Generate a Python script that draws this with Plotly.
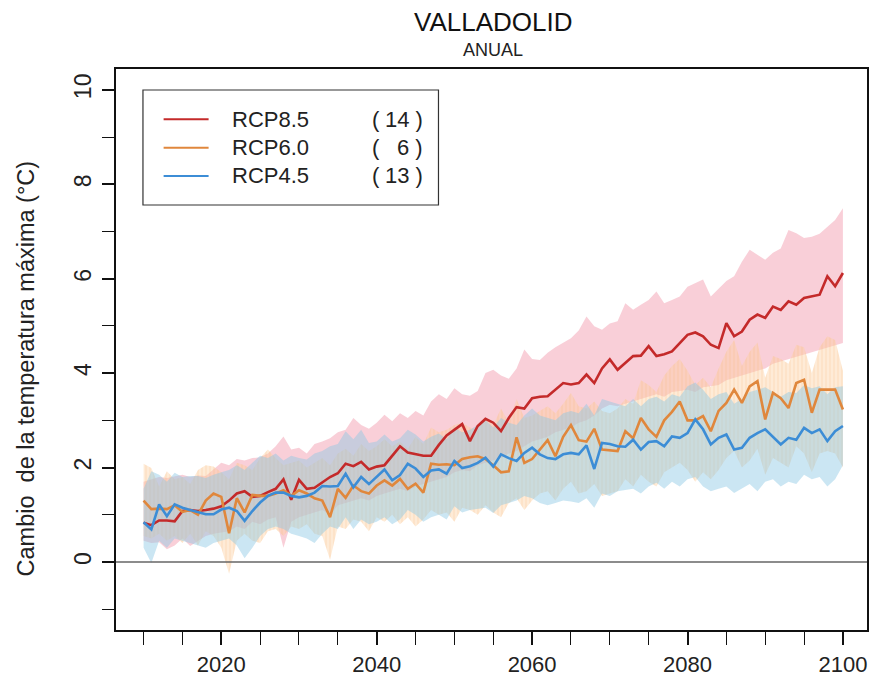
import plotly.graph_objects as go

years = list(range(2010, 2101))

# RCP8.5
r_med = [0.83, 0.78, 0.88, 0.88, 0.86, 1.08, 1.10, 1.08, 1.10, 1.13,
         1.18, 1.30, 1.45, 1.50, 1.38, 1.40, 1.48, 1.55, 1.75, 1.32,
         1.74, 1.55, 1.57, 1.68, 1.80, 1.88, 2.08, 2.03, 2.12, 1.96,
         2.02, 2.05, 2.25, 2.45, 2.32, 2.28, 2.25, 2.25, 2.48, 2.68,
         2.80, 2.92, 2.56, 2.88, 3.03, 2.95, 2.77, 3.05, 3.28, 3.25,
         3.47, 3.50, 3.51, 3.65, 3.79, 3.76, 3.79, 3.97, 3.79, 4.10,
         4.29, 4.07, 4.22, 4.36, 4.37, 4.57, 4.36, 4.40, 4.46, 4.64,
         4.81, 4.86, 4.78, 4.60, 4.53, 5.06, 4.78, 4.88, 5.13, 5.24,
         5.17, 5.41, 5.34, 5.52, 5.45, 5.59, 5.62, 5.66, 6.05, 5.84,
         6.12]
r_hi = [1.70, 1.75, 1.80, 1.78, 1.82, 1.85, 1.80, 1.83, 1.82, 1.95,
        2.10, 2.05, 2.18, 2.15, 2.20, 2.22, 2.30, 2.45, 2.66, 2.38,
        2.42, 2.30, 2.50, 2.55, 2.62, 2.75, 2.80, 3.05, 2.90, 2.82,
        2.95, 3.12, 2.98, 3.15, 3.05, 3.20, 3.10, 3.40, 3.55, 3.45,
        3.68, 3.55, 3.52, 3.62, 4.00, 4.07, 3.95, 3.88, 4.10, 4.50,
        4.30, 4.28, 4.43, 4.55, 4.64, 4.74, 4.90, 5.20, 4.99, 4.92,
        5.05, 5.10, 5.48, 5.34, 5.45, 5.55, 5.73, 5.48, 5.55, 5.62,
        5.83, 5.90, 5.98, 5.62, 5.78, 5.95, 6.05, 6.36, 6.61, 6.50,
        6.40, 6.55, 6.64, 7.03, 6.96, 6.86, 6.89, 6.95, 7.10, 7.24,
        7.49]
r_lo = [0.45, 0.40, 0.42, 0.27, 0.35, 0.50, 0.34, 0.45, 0.55, 0.60,
        0.62, 0.65, 0.75, 0.70, 0.85, 0.80, 0.90, 0.95, 0.30, 0.85,
        0.95, 1.00, 1.05, 1.10, 1.00, 1.20, 1.25, 1.30, 1.35, 1.30,
        1.40, 1.45, 1.50, 1.55, 1.50, 1.60, 1.65, 1.70, 1.75, 1.80,
        1.90, 1.95, 1.92, 2.05, 2.10, 2.15, 2.20, 2.30, 2.35, 2.45,
        2.55, 2.60, 2.65, 2.75, 2.80, 2.85, 2.95, 3.00, 3.10, 3.25,
        3.33, 3.30, 3.35, 3.40, 3.45, 3.50, 3.55, 3.50, 3.60, 3.62,
        3.65, 3.60, 3.70, 3.72, 3.75, 3.85, 3.90, 3.95, 4.00, 4.05,
        4.10, 4.20, 4.25, 4.30, 4.35, 4.40, 4.45, 4.50, 4.55, 4.60,
        4.64]

# RCP6.0
o_med = [1.30, 1.12, 1.13, 1.12, 1.20, 1.06, 1.10, 1.00, 1.30, 1.45,
         1.38, 0.61, 1.35, 1.05, 1.42, 1.40, 1.40, 1.45, 1.52, 1.40,
         1.52, 1.45, 1.35, 1.30, 0.95, 1.55, 1.36, 1.62, 1.50, 1.45,
         1.62, 1.73, 1.62, 1.76, 1.55, 1.66, 1.47, 2.08, 2.06, 2.07,
         2.05, 2.18, 2.22, 2.24, 2.18, 2.05, 1.90, 1.92, 2.64, 2.10,
         2.18, 2.38, 2.58, 2.24, 2.65, 2.90, 2.58, 2.55, 2.82, 2.38,
         2.36, 2.35, 2.77, 2.62, 3.05, 2.81, 2.65, 3.00, 3.18, 3.40,
         3.00, 3.00, 3.09, 2.77, 3.20, 3.37, 3.65, 3.37, 3.72, 3.83,
         3.02, 3.58, 3.47, 3.26, 3.79, 3.86, 3.16, 3.65, 3.65, 3.65,
         3.23]
o_hi = [2.08, 1.99, 1.60, 1.92, 1.75, 1.80, 1.65, 1.95, 2.05, 2.02,
        1.90, 1.75, 2.10, 2.05, 1.95, 2.20, 2.38, 2.20, 2.05, 2.10,
        2.15, 2.00, 2.10, 2.20, 2.05, 2.30, 2.40, 2.25, 2.50, 2.35,
        2.45, 2.60, 2.45, 2.55, 2.40, 2.65, 2.50, 2.85, 2.75, 2.80,
        2.90, 2.95, 2.85, 2.80, 3.05, 2.90, 3.25, 2.95, 3.45, 3.05,
        3.10, 3.20, 3.30, 3.15, 3.35, 3.58, 3.30, 3.25, 3.40, 3.20,
        3.15, 3.25, 3.45, 3.35, 3.85, 3.75, 3.60, 3.95, 4.15, 4.30,
        4.05, 3.75, 3.90, 3.70, 4.10, 4.45, 4.70, 4.15, 4.45, 4.65,
        3.90, 4.36, 4.30, 4.20, 4.60, 4.55, 4.00, 4.55, 4.78, 4.70,
        4.05]
o_lo = [0.55, 0.50, 0.60, 0.45, 0.55, 0.40, 0.60, 0.35, 0.65, 0.55,
        0.30, -0.25, 0.45, 0.60, 0.45, 0.40, 0.65, 0.70, 0.55, 0.75,
        0.70, 0.80, 0.60, 0.55, 0.05, 0.75, 0.70, 0.90, 0.85, 0.65,
        0.95, 0.85, 1.00, 0.80, 0.95, 0.75, 0.90, 1.10, 1.00, 1.05,
        0.85, 1.15, 1.10, 1.00, 1.20, 1.05, 0.95, 1.25, 1.35, 1.10,
        1.30, 1.45, 1.50, 1.30, 1.55, 1.70, 1.45, 1.50, 1.65, 1.40,
        1.45, 1.50, 1.75, 1.60, 1.85, 1.70, 1.60, 1.90, 2.00, 2.10,
        1.95, 1.70, 1.90, 1.75, 1.95, 2.20, 2.35, 2.00, 2.15, 2.40,
        1.85, 2.20, 2.10, 2.00, 2.45, 2.30, 1.90, 2.30, 2.35, 2.30,
        2.00]

# RCP4.5
b_med = [0.84, 0.69, 1.22, 0.97, 1.22, 1.15, 1.10, 1.05, 1.01, 1.01,
         1.11, 1.15, 1.08, 0.87, 1.08, 1.26, 1.40, 1.47, 1.47, 1.40,
         1.37, 1.40, 1.47, 1.61, 1.60, 1.61, 1.87, 1.58, 1.80, 1.65,
         1.80, 1.96, 1.73, 1.84, 2.08, 1.98, 1.80, 1.94, 1.96, 1.87,
         2.14, 1.99, 2.03, 2.10, 2.21, 2.02, 2.28, 2.20, 2.14, 2.31,
         2.42, 2.28, 2.20, 2.18, 2.28, 2.31, 2.28, 2.47, 1.97, 2.52,
         2.50, 2.45, 2.44, 2.59, 2.38, 2.54, 2.56, 2.45, 2.66, 2.63,
         2.73, 3.02, 2.81, 2.49, 2.63, 2.70, 2.38, 2.42, 2.63, 2.73,
         2.81, 2.66, 2.49, 2.63, 2.59, 2.84, 2.73, 2.81, 2.56, 2.77,
         2.88]
b_hi = [1.55, 1.92, 1.85, 1.70, 1.89, 1.80, 1.82, 1.82, 1.78, 1.85,
        1.90, 1.95, 2.05, 1.95, 2.10, 2.25, 2.20, 2.30, 2.15, 2.25,
        2.20, 2.17, 2.30, 2.35, 2.45, 2.50, 2.77, 2.60, 2.80, 2.52,
        2.55, 2.70, 2.55, 2.62, 2.80, 2.70, 2.55, 2.65, 2.72, 2.60,
        2.85, 2.75, 2.80, 2.90, 3.00, 2.85, 3.05, 2.95, 2.90, 3.10,
        3.25, 3.10, 3.05, 3.00, 3.15, 3.20, 3.15, 3.35, 3.10, 3.45,
        3.40, 3.35, 3.30, 3.45, 3.30, 3.45, 3.50, 3.40, 3.55, 3.50,
        3.72, 3.80, 3.65, 3.45, 3.55, 3.60, 3.35, 3.45, 3.60, 3.65,
        3.70, 3.60, 3.50, 3.60, 3.58, 3.75, 3.68, 3.72, 3.55, 3.70,
        3.72]
b_lo = [0.30, -0.02, 0.45, 0.30, 0.50, 0.45, 0.40, 0.35, 0.30, 0.40,
        0.45, 0.50, 0.35, 0.08, 0.30, 0.55, 0.70, 0.75, 0.70, 0.60,
        0.55, 0.50, 0.40, 0.60, 0.75, 0.70, 0.95, 0.70, 0.90, 0.80,
        0.85, 0.95, 0.80, 0.90, 1.10, 1.00, 0.85, 0.95, 1.00, 0.90,
        1.18, 1.05, 1.10, 1.12, 1.15, 1.04, 1.20, 1.25, 1.30, 1.40,
        1.35, 1.25, 1.20, 1.25, 1.30, 1.28, 1.25, 1.35, 1.15, 1.45,
        1.40, 1.50, 1.53, 1.55, 1.45, 1.60, 1.68, 1.55, 1.70, 1.60,
        1.75, 1.80, 1.60, 1.50, 1.55, 1.60, 1.46, 1.55, 1.65, 1.50,
        1.70, 1.75, 1.60, 1.70, 1.65, 1.85, 1.75, 1.80, 1.60, 1.75,
        2.05]

series_names = ["RCP8.5", "RCP6.0", "RCP4.5"]
series_counts = ["14", "6", "13"]
line_colors = ["#C42A2A", "#E0873C", "#3C8DD6"]

title_text = "VALLADOLID"
subtitle_text = "ANUAL"
ytitle_text = "Cambio  de la temperatura máxima (°C)"

FONT = "Liberation Sans, Arial, Helvetica, sans-serif"

fig = go.Figure()

# bands
fig.add_trace(go.Scatter(x=years, y=r_lo, mode="lines", line=dict(width=0),
                         hoverinfo="skip", showlegend=False))
fig.add_trace(go.Scatter(x=years, y=r_hi, mode="lines", line=dict(width=0),
                         fill="tonexty", fillcolor="rgba(244,160,178,0.5)",
                         hoverinfo="skip", showlegend=False))
fig.add_trace(go.Scatter(x=years, y=o_lo, mode="lines", line=dict(width=0),
                         hoverinfo="skip", showlegend=False))
fig.add_trace(go.Scatter(x=years, y=o_hi, mode="lines", line=dict(width=0),
                         fill="tonexty", fillcolor="rgba(253,200,150,0.45)",
                         fillpattern=dict(shape="|", size=4, solidity=0.3,
                                          fgcolor="rgba(245,170,95,0.4)",
                                          bgcolor="rgba(253,208,160,0.42)"),
                         hoverinfo="skip", showlegend=False))
fig.add_trace(go.Scatter(x=years, y=b_lo, mode="lines", line=dict(width=0),
                         hoverinfo="skip", showlegend=False))
fig.add_trace(go.Scatter(x=years, y=b_hi, mode="lines", line=dict(width=0),
                         fill="tonexty", fillcolor="rgba(140,200,228,0.45)",
                         hoverinfo="skip", showlegend=False))

# medians
for yv, c, n in [(r_med, line_colors[0], series_names[0]),
                 (o_med, line_colors[1], series_names[1]),
                 (b_med, line_colors[2], series_names[2])]:
    fig.add_trace(go.Scatter(x=years, y=yv, mode="lines", name=n,
                             line=dict(color=c, width=2.6), showlegend=False))

shapes = [
    dict(type="line", xref="paper", yref="y", x0=0, x1=1, y0=0, y1=0,
         line=dict(color="#666666", width=1.5), layer="above"),
    dict(type="rect", xref="paper", yref="paper", x0=0.0359, x1=0.4294,
         y0=0.7576, y1=0.9626, line=dict(color="#333333", width=1.2),
         fillcolor="white", layer="above"),
]
annotations = []
leg_y = [0.9103, 0.8597, 0.8093]
for i in range(3):
    shapes.append(dict(type="line", xref="paper", yref="paper",
                       x0=0.0634, x1=0.1233, y0=leg_y[i], y1=leg_y[i],
                       line=dict(color=line_colors[i], width=2), layer="above"))
    annotations.append(dict(text=series_names[i], xref="paper", yref="paper",
                            x=0.1521, y=leg_y[i], xanchor="left", yanchor="middle",
                            showarrow=False, font=dict(size=22, color="#222")))
    annotations.append(dict(text="(", xref="paper", yref="paper",
                            x=0.3376, y=leg_y[i], xanchor="left", yanchor="middle",
                            showarrow=False, font=dict(size=22, color="#222")))
    annotations.append(dict(text=series_counts[i] + " )", xref="paper", yref="paper",
                            x=0.4117, y=leg_y[i], xanchor="right", yanchor="middle",
                            showarrow=False, font=dict(size=22, color="#222")))

annotations += [
    dict(text=title_text, xref="paper", yref="paper", x=0.502, y=1.0838,
         xanchor="center", yanchor="middle", showarrow=False,
         font=dict(size=26, color="#111")),
    dict(text=subtitle_text, xref="paper", yref="paper", x=0.502, y=1.0339,
         xanchor="center", yanchor="middle", showarrow=False,
         font=dict(size=18, color="#222")),
    dict(text=ytitle_text, xref="paper", yref="paper", x=-0.12, y=0.466,
         xanchor="center", yanchor="middle", textangle=-90, showarrow=False,
         font=dict(size=23.5, color="#222")),
]

fig.update_layout(
    width=871, height=677,
    margin=dict(l=116, r=4, t=69, b=47, autoexpand=False),
    paper_bgcolor="white", plot_bgcolor="white",
    font=dict(family=FONT, color="#222"),
    shapes=shapes, annotations=annotations,
    showlegend=False,
)
fig.update_xaxes(range=[2006.45, 2103.1], tickmode="linear", tick0=2000, dtick=20,
                 automargin=False,
                 ticks="outside", ticklen=13, tickwidth=2, tickcolor="#111",
                 showline=True, linecolor="#111", linewidth=1.5, mirror=True,
                 showgrid=False, zeroline=False, ticklabelstandoff=1,
                 tickfont=dict(size=22, color="#222"),
                 minor=dict(tickmode="linear", tick0=2000, dtick=5, ticks="outside",
                            ticklen=13, tickwidth=1, tickcolor="#111", showgrid=False))
fig.update_yaxes(range=[-1.44, 10.44], tickmode="linear", tick0=0, dtick=2,
                 automargin=False,
                 ticks="outside", ticklen=12, tickwidth=1.5, tickcolor="#111",
                 showline=True, linecolor="#111", linewidth=1.5, mirror=True,
                 showgrid=False, zeroline=False, tickangle=-90, ticklabelstandoff=2,
                 tickfont=dict(size=23, color="#222"),
                 minor=dict(tickmode="linear", tick0=0, dtick=1, ticks="outside",
                            ticklen=12, tickwidth=1, tickcolor="#111", showgrid=False))

fig.write_html("out.html")
